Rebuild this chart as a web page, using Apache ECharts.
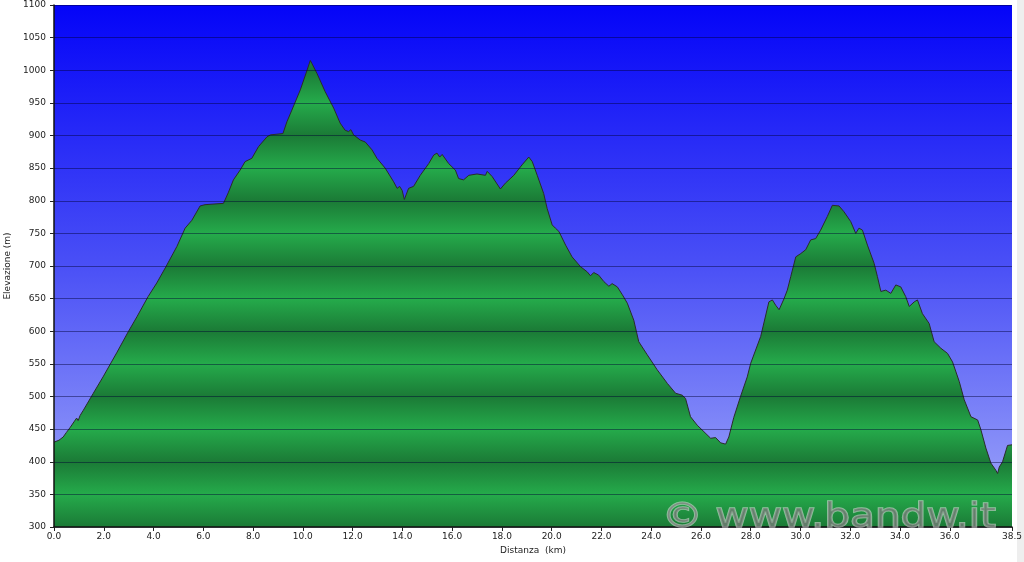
<!DOCTYPE html>
<html>
<head>
<meta charset="utf-8">
<script src="https://cdn.jsdelivr.net/npm/echarts@6/dist/echarts.min.js"></script>
<style>
html,body{margin:0;padding:0;background:#fff;}
#chart{width:1024px;height:562px;}
</style>
</head>
<body>
<div id="chart"></div>
<script>
// Distance along the route (km)
const distanceKm = [
  0.00,0.20,0.37,0.50,0.64,0.80,0.91,0.97,1.05,1.18,1.58,1.97,2.52,2.98,3.33,3.78,4.13,4.47,4.94,5.27,
  5.54,5.87,6.07,6.14,6.81,7.00,7.21,7.48,7.68,7.95,8.22,8.56,8.70,8.96,9.20,9.36,9.56,9.90,10.17,10.30,
  10.37,10.57,10.90,11.24,11.50,11.70,11.84,11.93,12.04,12.31,12.51,12.78,12.98,13.31,13.65,13.79,13.89,13.99,14.08,14.25,
  14.45,14.72,15.06,15.26,15.39,15.50,15.60,15.86,16.13,16.26,16.46,16.67,17.00,17.34,17.41,17.61,17.94,18.14,18.48,18.81,
  19.08,19.22,19.42,19.68,19.82,20.02,20.15,20.29,20.56,20.82,21.16,21.43,21.56,21.69,21.89,22.10,22.30,22.43,22.64,22.84,
  23.04,23.30,23.50,23.84,24.24,24.65,24.98,25.25,25.38,25.58,25.85,26.12,26.39,26.59,26.79,26.99,27.12,27.32,27.59,27.86,
  28.00,28.40,28.73,28.87,29.00,29.14,29.34,29.47,29.61,29.81,30.01,30.21,30.41,30.61,30.81,31.08,31.28,31.55,31.75,32.02,
  32.22,32.35,32.49,32.69,32.96,33.09,33.23,33.43,33.63,33.83,34.03,34.23,34.37,34.57,34.70,34.90,35.17,35.37,35.64,35.91,
  36.11,36.38,36.58,36.85,37.12,37.25,37.45,37.65,37.85,37.92,37.99,38.12,38.32,38.50
];
// Elevation (m)
const elevationM = [
  430,433,438,445,452,461,467,463,471,479,505,530,567,599,622,653,674,697,730,758,
  770,792,794,796,796,812,832,847,860,865,883,898,901,902,903,921,939,970,1000,1015,
  1010,995,967,942,919,908,906,909,901,893,890,878,865,850,829,819,822,816,802,819,
  822,839,857,870,873,867,871,857,847,834,832,839,841,839,845,837,818,827,839,855,
  867,860,839,811,788,763,758,753,732,714,699,691,685,690,686,676,669,673,668,656,
  643,617,584,564,541,520,505,502,497,469,456,446,436,437,429,427,438,468,500,530,
  551,592,645,648,640,633,650,663,684,714,719,725,740,742,755,776,793,792,783,768,
  750,758,755,732,704,684,661,663,658,671,668,653,638,645,648,627,612,584,574,566,
  553,523,495,469,464,449,421,398,387,382,392,400,425,426
];
// Tick values
const xTickValues = [0,2,4,6,8,10,12,14,16,18,20,22,24,26,28,30,32,34,36,38.5];
const yMin = 300, yMax = 1100, yStep = 50;

const chart = echarts.init(document.getElementById('chart'), null, {renderer:'canvas'});

const gridTop = 5, gridBottomPx = 527;
// banded green fill (dark at each 100 m, light at each odd 50 m), pixel aligned
const light = '#25ab4b', dark = '#1b7a36';
const bandStops = [];
for (let e = yMax; e >= yMin; e -= yStep) {
  bandStops.push({offset:(yMax - e)/(yMax - yMin), color: (e % 100 === 0) ? dark : light});
}

const seriesData = distanceKm.map((d,i) => [d, elevationM[i]]);
const font = 'DejaVu Sans';

chart.setOption({
  animation:false,
  backgroundColor:'#ffffff',
  grid:{
    left:54, right:12, top:gridTop, bottom:562-gridBottomPx,
    outerBoundsMode:'none', containLabel:false,
    show:true, borderWidth:0,
    backgroundColor:{type:'linear',x:0,y:0,x2:0,y2:1,colorStops:[
      {offset:0,color:'#0404f8'},
      {offset:0.5,color:'#4a50f6'},
      {offset:1,color:'#a2aaf9'}
    ]}
  },
  xAxis:{
    type:'value', min:0, max:38.5, interval:2, z:3,
    name:'Distanza  (km)', nameLocation:'middle', nameGap:19,
    nameTextStyle:{fontFamily:font,fontSize:9,color:'#222'},
    axisLine:{show:true,onZero:false,lineStyle:{color:'#111',width:1.5}},
    axisTick:{show:true,length:4,customValues:xTickValues,lineStyle:{color:'#222'}},
    axisLabel:{customValues:xTickValues,formatter:v=>v.toFixed(1),fontFamily:font,fontSize:9,color:'#222',margin:5},
    splitLine:{show:false}
  },
  yAxis:{
    type:'value', min:yMin, max:yMax, interval:yStep, z:3,
    name:'Elevazione (m)', nameLocation:'middle', nameGap:40, nameRotate:90,
    nameTextStyle:{fontFamily:font,fontSize:9,color:'#222'},
    axisLine:{show:true,lineStyle:{color:'#111',width:1.5}},
    axisTick:{show:true,length:4,lineStyle:{color:'#222'}},
    axisLabel:{formatter:v=>String(v),fontFamily:font,fontSize:9,color:'#222',margin:8},
    splitLine:{show:true,lineStyle:{color:'rgba(0,0,50,0.45)',width:1}}
  },
  series:[{
    type:'line', data:seriesData, showSymbol:false, z:2,
    lineStyle:{color:'#2b2b2b',width:1},
    areaStyle:{opacity:1,color:{type:'linear',global:true,x:0,y:gridTop,x2:0,y2:gridBottomPx,colorStops:bandStops}}
  }],
  graphic:[
    {type:'rect',left:1017,top:0,shape:{width:7,height:562},style:{fill:'#eeeeee'},z:1},
    {type:'text',x:662,y:535,scaleX:1.23,z:10,silent:true,
     style:{text:'© www.bandw.it',font:'33px "DejaVu Sans"',fill:'rgba(125,125,125,0.72)',
            stroke:'rgba(235,235,235,0.55)',lineWidth:1.5,verticalAlign:'bottom',align:'left'}}
  ]
});
</script>
</body>
</html>
